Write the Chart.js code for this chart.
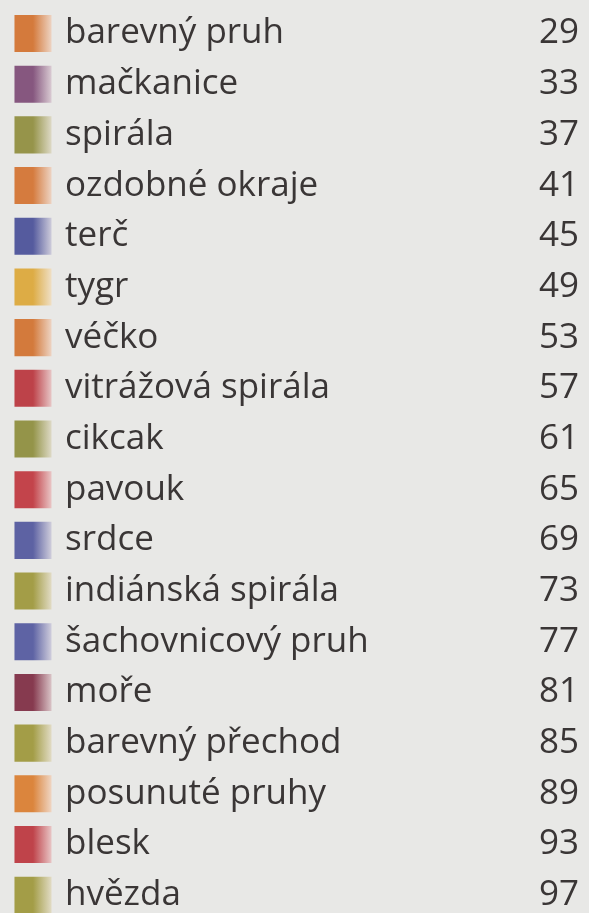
<!DOCTYPE html>
<html>
<head>
<meta charset="utf-8">
<script src="https://cdn.jsdelivr.net/npm/chart.js@4"></script>
<style>
  html, body { margin: 0; padding: 0; background: #e8e8e6; }
  #wrap { position: relative; width: 589px; height: 913px; }
</style>
</head>
<body>
<div id="wrap"><canvas id="toc"></canvas></div>
<script>
  // obsah: název vzoru -> strana
  var names = [
    "barevný pruh", "mačkanice", "spirála", "ozdobné okraje", "terč", "tygr",
    "véčko", "vitrážová spirála", "cikcak", "pavouk", "srdce", "indiánská spirála",
    "šachovnicový pruh", "moře", "barevný přechod", "posunuté pruhy", "blesk", "hvězda"
  ];
  var pages = ["29", "33", "37", "41", "45", "49", "53", "57", "61", "65", "69", "73",
    "77", "81", "85", "89", "93", "97"];

  var swatchColors = [
    "#d47a3c", "#86577f", "#96944a", "#d57b3e", "#555b9e", "#ddac45",
    "#d37a3c", "#bd4249", "#949449", "#c3444b", "#5d62a3", "#a39d47",
    "#5e63a4", "#863a4f", "#a39d47", "#db853d", "#bf434a", "#a39d47"
  ];

  var TEXT = "#3a3636";
  var FONT = { family: "'Open Sans', sans-serif", size: 35, lineHeight: 1 };

  function lighten(hex, k) {
    var n = parseInt(hex.slice(1), 16);
    var r = (n >> 16) & 255, g = (n >> 8) & 255, b = n & 255;
    r = Math.round(r + (245 - r) * k);
    g = Math.round(g + (240 - g) * k);
    b = Math.round(b + (238 - b) * k);
    return "rgb(" + r + "," + g + "," + b + ")";
  }

  function swatchFill(c) {
    var base = swatchColors[c.dataIndex] || "#999";
    var chart = c.chart;
    if (!chart.chartArea || !chart.scales.x) return base;
    var cx = chart.scales.x.getPixelForValue(0);
    var g = chart.ctx.createLinearGradient(cx - 18.5, 0, cx + 18.5, 0);
    g.addColorStop(0, base);
    g.addColorStop(0.5, base);
    g.addColorStop(1, lighten(base, 0.75));
    return g;
  }

  // mirrored tick columns take no room of their own
  function flat(scale) {
    scale.width = 0;
    scale.paddingTop = 0;
    scale.paddingBottom = 0;
    scale.paddingLeft = 0;
    scale.paddingRight = 0;
  }

  new Chart(document.getElementById("toc"), {
    type: "line",
    data: {
      datasets: [
        {
          data: names.map(function (n) {
            return { x: 0, y: n };
          }),
          showLine: false,
          clip: false,
          pointStyle: "rect",
          pointRadius: 26.2,
          pointHoverRadius: 26.2,
          pointBorderWidth: 0,
          pointBackgroundColor: swatchFill,
          pointBorderColor: "rgba(0,0,0,0)",
        },
      ],
    },
    options: {
      responsive: true,
      maintainAspectRatio: false,
      animation: false,
      events: [],
      layout: { autoPadding: false, padding: { left: 33, right: 0, top: 33.5, bottom: 17.8 } },
      plugins: { legend: { display: false }, tooltip: { enabled: false } },
      scales: {
        x: { type: "linear", min: 0, max: 1, display: false },
        y: {
          type: "category",
          labels: names,
          position: "left",
          offset: false,
          grid: { display: false, drawTicks: false },
          border: { display: false },
          afterFit: flat,
          ticks: { mirror: true, crossAlign: "near", padding: 32, color: TEXT, font: FONT, autoSkip: false },
        },
        y2: {
          type: "category",
          labels: pages,
          position: "right",
          offset: false,
          grid: { display: false, drawTicks: false },
          border: { display: false },
          afterFit: flat,
          ticks: { mirror: true, padding: -10, color: TEXT, font: FONT, autoSkip: false },
        },
      },
    },
  });
</script>
</body>
</html>
